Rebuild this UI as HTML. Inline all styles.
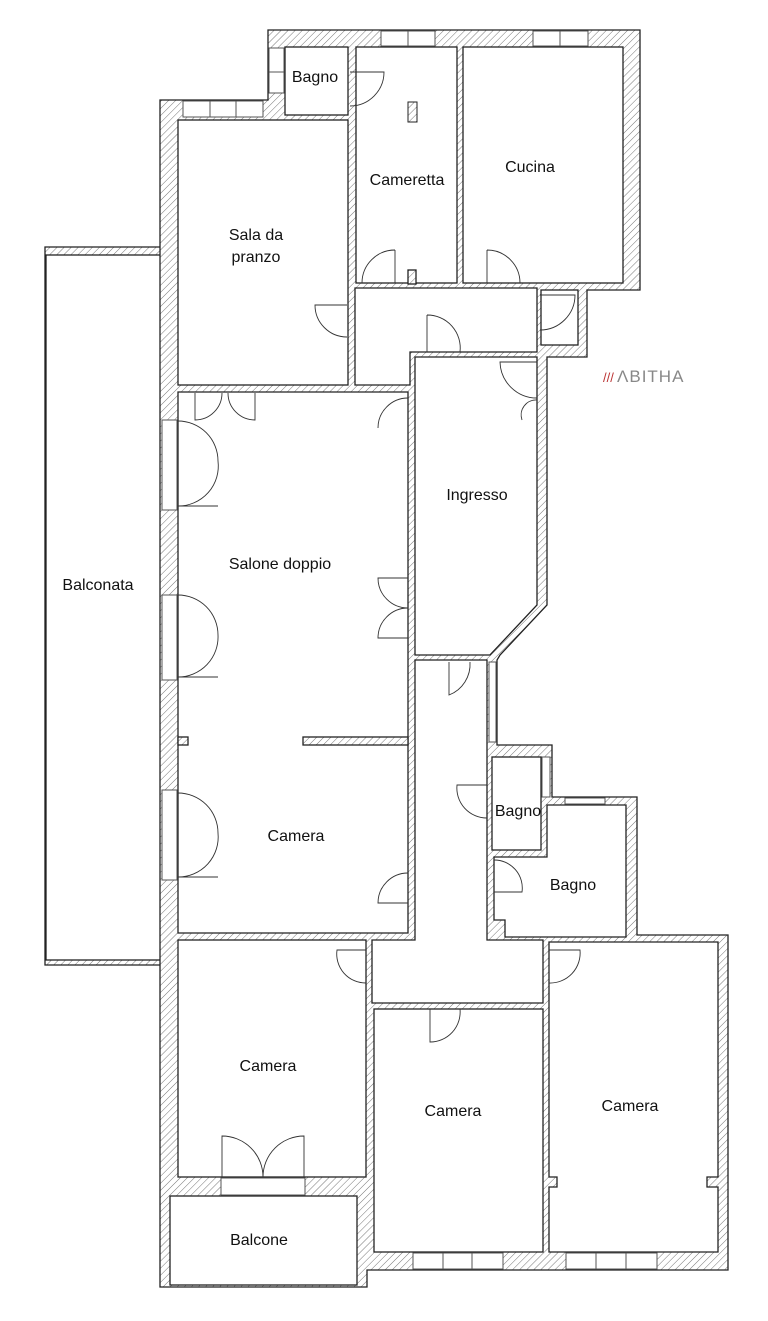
<!DOCTYPE html>
<html><head><meta charset="utf-8"><style>
html,body{margin:0;padding:0;background:#fff;}
svg{display:block;}
text{font-family:"Liberation Sans",sans-serif;font-size:16px;fill:#111;text-anchor:middle;}
</style></head><body>
<svg width="768" height="1321" viewBox="0 0 768 1321" xmlns="http://www.w3.org/2000/svg">
<defs>
<pattern id="h" width="5" height="5" patternUnits="userSpaceOnUse" patternTransform="rotate(45)">
<rect width="5" height="5" fill="#fff"/><line x1="0" y1="0" x2="0" y2="5" stroke="#777" stroke-width="1"/>
</pattern>
</defs>
<g stroke="#222" stroke-width="1.3" stroke-linejoin="miter">
<polygon points="45,247 162,247 162,965 45,965" fill="url(#h)"/>
<rect x="46" y="255" width="116" height="705" fill="#fff" stroke="#222"/>
<polygon fill="url(#h)" points="268,30 640,30 640,290 587,290 587,357 547,357 547,605 500,655 497,660 497,745 552,745 552,797 637,797 637,935 728,935 728,1270 367,1270 367,1287 160,1287 160,100 268,100"/>
<g fill="#fff">
<rect x="285" y="47" width="63" height="68"/>
<rect x="356" y="47" width="101" height="236"/>
<rect x="463" y="47" width="160" height="236"/>
<rect x="178" y="120" width="170" height="265"/>
<polygon points="355,288 537,288 537,352 410,352 410,385 355,385"/>
<rect x="541" y="290" width="37" height="55"/>
<polygon points="415,357 537,357 537,605 490,655 415,655"/>
<polygon points="178,392 408,392 408,933 178,933"/>
<polygon points="415,660 487,660 487,940 543,940 543,1003 372,1003 372,940 415,940"/>
<rect x="492" y="757" width="49" height="93"/>
<polygon points="547,805 626,805 626,937 505,937 505,920 494,920 494,857 547,857"/>
<rect x="178" y="940" width="188" height="237"/>
<rect x="374" y="1009" width="169" height="243"/>
<polygon points="549,942 718,942 718,1177 707,1177 707,1187 718,1187 718,1252 549,1252 549,1187 557,1187 557,1177 549,1177"/>
<rect x="170" y="1196" width="187" height="89"/>
</g>
<rect x="303" y="737" width="105" height="8" fill="url(#h)"/>
<rect x="178" y="737" width="10" height="8" fill="url(#h)"/>
<rect x="408" y="270" width="8" height="14" fill="url(#h)"/>
</g>
<g fill="#fff" stroke="#555" stroke-width="1">
<rect x="381" y="31" width="54" height="15"/><line x1="408" y1="31" x2="408" y2="46"/>
<rect x="533" y="31" width="55" height="15"/><line x1="560" y1="31" x2="560" y2="46"/>
<rect x="183" y="101" width="80" height="16"/><line x1="210" y1="101" x2="210" y2="117"/><line x1="236" y1="101" x2="236" y2="117"/>
<rect x="269" y="48" width="15" height="45"/><line x1="269" y1="72" x2="284" y2="72"/>
<rect x="162" y="420" width="15" height="90"/>
<rect x="162" y="595" width="15" height="85"/>
<rect x="162" y="790" width="15" height="90"/>
<rect x="221" y="1178" width="84" height="17"/>
<rect x="413" y="1253" width="90" height="16"/><line x1="443" y1="1253" x2="443" y2="1269"/><line x1="472" y1="1253" x2="472" y2="1269"/>
<rect x="566" y="1253" width="91" height="16"/><line x1="596" y1="1253" x2="596" y2="1269"/><line x1="626" y1="1253" x2="626" y2="1269"/>
<rect x="489" y="662" width="7" height="80"/>
<rect x="542" y="757" width="8" height="40"/>
<rect x="565" y="798" width="40" height="6"/>
</g>
<g fill="none" stroke="#333" stroke-width="0.9">
<path d="M350,72 L384,72 A34,34 0 0 1 350,106"/>
<path d="M395,250 L395,283 M395,250 A33,33 0 0 0 362,283"/>
<path d="M487,250 L487,283 M487,250 A33,33 0 0 1 520,283"/>
<path d="M347,305 L315,305 A32,32 0 0 0 347,337"/>
<path d="M427,315 L427,352 M427,315 A33,33 0 0 1 460,352"/>
<path d="M540,295 L575,295 A35,35 0 0 1 540,330"/>
<path d="M537,362 L500,362 A37,37 0 0 0 537,398"/>
<path d="M537,400 A15,15 0 0 0 522,420"/>
<path d="M195,393 L195,420 A27,27 0 0 0 222,393 M255,393 L255,420 A27,27 0 0 1 228,393"/>
<path d="M408,398 A30,30 0 0 0 378,428 M408,578 L378,578 A30,30 0 0 0 408,608 M408,608 A30,30 0 0 0 378,638 L408,638"/>
<path d="M178,421 A40,40 0 0 1 218,461 A40,40 0 0 1 178,506 L218,506"/>
<path d="M178,595 A40,40 0 0 1 218,635 A40,40 0 0 1 178,677 L218,677"/>
<path d="M178,793 A40,40 0 0 1 218,833 A40,40 0 0 1 178,877 L218,877"/>
<path d="M408,873 A30,30 0 0 0 378,903 L408,903"/>
<path d="M449,662 L449,695 A33,33 0 0 0 470,662"/>
<path d="M487,785 L457,785 A30,30 0 0 0 487,818"/>
<path d="M494,860 A28,28 0 0 1 522,892 L494,892"/>
<path d="M366,950 L337,950 A29,29 0 0 0 366,983"/>
<path d="M430,1009 L430,1042 A30,30 0 0 0 460,1009"/>
<path d="M549,950 L580,950 A30,30 0 0 1 549,983"/>
<path d="M222,1177 L222,1136 A41,41 0 0 1 263,1177 A41,41 0 0 1 304,1136 L304,1177"/>
</g>
<rect x="408" y="102" width="9" height="20" fill="url(#h)" stroke="#222"/>
<text x="315" y="82">Bagno</text>
<text x="407" y="185">Cameretta</text>
<text x="530" y="172">Cucina</text>
<text x="256" y="240">Sala da</text>
<text x="256" y="262">pranzo</text>
<text x="477" y="500">Ingresso</text>
<text x="280" y="569">Salone doppio</text>
<text x="98" y="590">Balconata</text>
<text x="296" y="841">Camera</text>
<text x="518" y="816">Bagno</text>
<text x="573" y="890">Bagno</text>
<text x="268" y="1071">Camera</text>
<text x="453" y="1116">Camera</text>
<text x="630" y="1111">Camera</text>
<text x="259" y="1245">Balcone</text>
<text x="603" y="382" style="font-size:13px;fill:#b33;text-anchor:start">///</text>
<text x="617" y="382" style="font-size:17px;fill:#888;text-anchor:start;letter-spacing:1px">ΛBITHA</text>
</svg>
</body></html>
